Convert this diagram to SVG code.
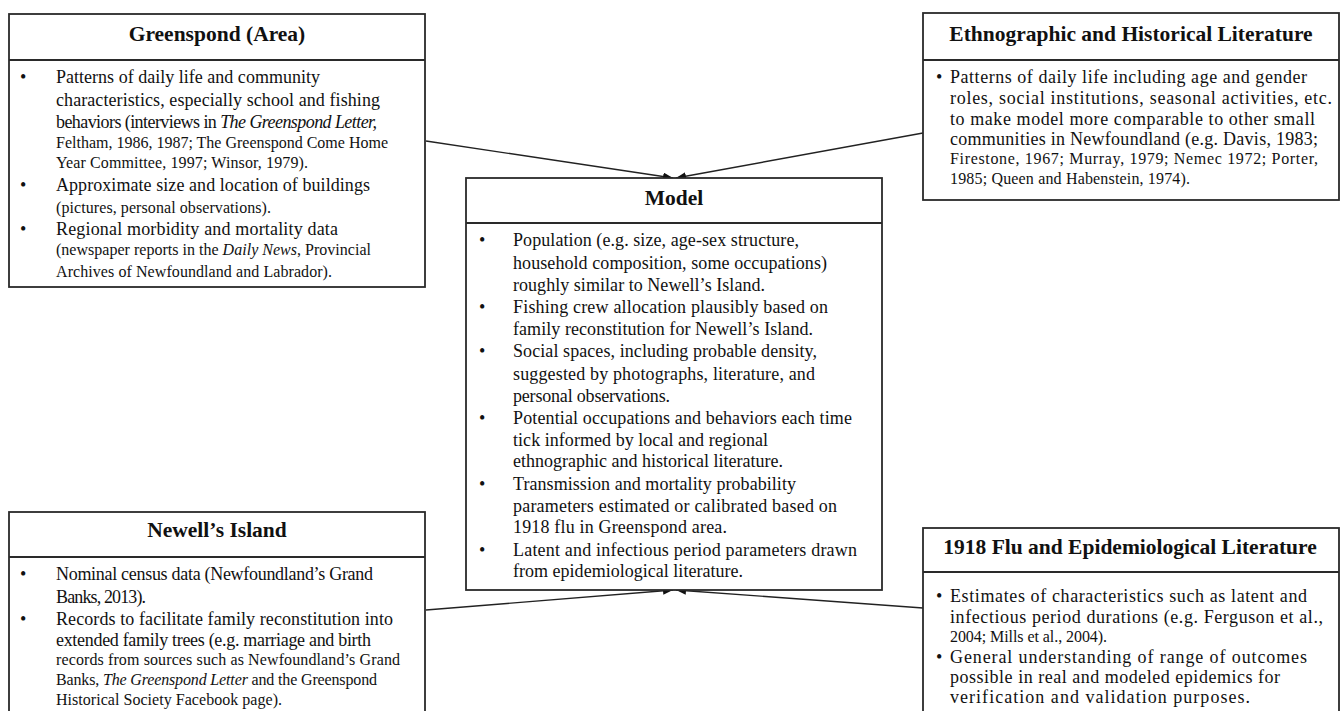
<svg xmlns="http://www.w3.org/2000/svg" width="1340" height="711" viewBox="0 0 1340 711">
<defs>
<style>
.box{fill:#fff;stroke:#2a2a2a;stroke-width:1.8}
.div{stroke:#2a2a2a;stroke-width:1.8}
.t{font-family:"Liberation Serif","Times New Roman",serif;font-weight:bold;font-size:21.5px;fill:#111;text-anchor:middle}
.b{font-family:"Liberation Serif","Times New Roman",serif;font-size:18px;fill:#111}
.s{font-size:16px}
.i{font-style:italic}
.con{stroke:#222;stroke-width:1.4;fill:none;marker-end:url(#ah)}
</style>
<marker id="ah" markerUnits="userSpaceOnUse" markerWidth="12" markerHeight="10" refX="10" refY="4" orient="auto">
<path d="M0,0 L10,4 L0,8 Z" fill="#111"/>
</marker>
</defs>
<rect width="1340" height="711" fill="#fff"/>

<g id="connectors">
<line class="con" x1="426" y1="141" x2="673" y2="178"/>
<line class="con" x1="923" y1="133" x2="676" y2="178"/>
<line class="con" x1="426" y1="610" x2="673" y2="590"/>
<line class="con" x1="923" y1="608" x2="676" y2="590"/>
</g>

<g id="greenspond">
<rect class="box" x="9" y="14" width="416" height="273"/>
<line class="div" x1="9" y1="60" x2="425" y2="60"/>
<text class="t" x="217" y="41">Greenspond (Area)</text>
<text class="b" x="20" y="83">•</text>
<text class="b" x="56" y="83" textLength="264" lengthAdjust="spacing">Patterns of daily life and community</text>
<text class="b" x="56" y="106" textLength="324" lengthAdjust="spacing">characteristics, especially school and fishing</text>
<text class="b" x="56" y="128" textLength="321" lengthAdjust="spacing">behaviors (interviews in <tspan class="i">The Greenspond Letter,</tspan></text>
<text class="b s" x="56" y="148" textLength="332" lengthAdjust="spacing">Feltham, 1986, 1987; The Greenspond Come Home</text>
<text class="b s" x="56" y="168" textLength="252" lengthAdjust="spacing">Year Committee, 1997; Winsor, 1979).</text>
<text class="b" x="20" y="191">•</text>
<text class="b" x="56" y="191" textLength="314" lengthAdjust="spacing">Approximate size and location of buildings</text>
<text class="b s" x="56" y="213" textLength="215" lengthAdjust="spacing">(pictures, personal observations).</text>
<text class="b" x="20" y="235">•</text>
<text class="b" x="56" y="235" textLength="282" lengthAdjust="spacing">Regional morbidity and mortality data</text>
<text class="b s" x="56" y="255" textLength="315" lengthAdjust="spacing">(newspaper reports in the <tspan class="i">Daily News</tspan>, Provincial</text>
<text class="b s" x="56" y="277" textLength="276" lengthAdjust="spacing">Archives of Newfoundland and Labrador).</text>
</g>

<g id="ethnographic">
<rect class="box" x="923" y="13" width="416" height="187"/>
<line class="div" x1="923" y1="60" x2="1339" y2="60"/>
<text class="t" x="1131" y="41">Ethnographic and Historical Literature</text>
<text class="b" x="936" y="83">•</text>
<text class="b" x="950" y="83" textLength="357" lengthAdjust="spacing">Patterns of daily life including age and gender</text>
<text class="b" x="950" y="104" textLength="382" lengthAdjust="spacing">roles, social institutions, seasonal activities, etc.</text>
<text class="b" x="950" y="125" textLength="365" lengthAdjust="spacing">to make model more comparable to other small</text>
<text class="b" x="950" y="145" textLength="368" lengthAdjust="spacing">communities in Newfoundland (e.g. Davis, 1983;</text>
<text class="b s" x="950" y="164" textLength="368" lengthAdjust="spacing">Firestone, 1967; Murray, 1979; Nemec 1972; Porter,</text>
<text class="b s" x="950" y="184" textLength="240" lengthAdjust="spacing">1985; Queen and Habenstein, 1974).</text>
</g>

<g id="model">
<rect class="box" x="466" y="178" width="416" height="412"/>
<line class="div" x1="466" y1="223" x2="882" y2="223"/>
<text class="t" x="674" y="205">Model</text>
<text class="b" x="479" y="246">•</text>
<text class="b" x="513" y="246" textLength="286" lengthAdjust="spacing">Population (e.g. size, age-sex structure,</text>
<text class="b" x="513" y="269" textLength="314" lengthAdjust="spacing">household composition, some occupations)</text>
<text class="b" x="513" y="291" textLength="252" lengthAdjust="spacing">roughly similar to Newell’s Island.</text>
<text class="b" x="479" y="313">•</text>
<text class="b" x="513" y="313" textLength="315" lengthAdjust="spacing">Fishing crew allocation plausibly based on</text>
<text class="b" x="513" y="335" textLength="300" lengthAdjust="spacing">family reconstitution for Newell’s Island.</text>
<text class="b" x="479" y="357">•</text>
<text class="b" x="513" y="357" textLength="304" lengthAdjust="spacing">Social spaces, including probable density,</text>
<text class="b" x="513" y="380" textLength="302" lengthAdjust="spacing">suggested by photographs, literature, and</text>
<text class="b" x="513" y="402" textLength="157" lengthAdjust="spacing">personal observations.</text>
<text class="b" x="479" y="424">•</text>
<text class="b" x="513" y="424" textLength="339" lengthAdjust="spacing">Potential occupations and behaviors each time</text>
<text class="b" x="513" y="446" textLength="255" lengthAdjust="spacing">tick informed by local and regional</text>
<text class="b" x="513" y="467" textLength="270" lengthAdjust="spacing">ethnographic and historical literature.</text>
<text class="b" x="479" y="490">•</text>
<text class="b" x="513" y="490" textLength="283" lengthAdjust="spacing">Transmission and mortality probability</text>
<text class="b" x="513" y="512" textLength="324" lengthAdjust="spacing">parameters estimated or calibrated based on</text>
<text class="b" x="513" y="533" textLength="214" lengthAdjust="spacing">1918 flu in Greenspond area.</text>
<text class="b" x="479" y="556">•</text>
<text class="b" x="513" y="556" textLength="344" lengthAdjust="spacing">Latent and infectious period parameters drawn</text>
<text class="b" x="513" y="577" textLength="230" lengthAdjust="spacing">from epidemiological literature.</text>
</g>

<g id="newells">
<rect class="box" x="9" y="512" width="416" height="210"/>
<line class="div" x1="9" y1="557" x2="425" y2="557"/>
<text class="t" x="217" y="537">Newell’s Island</text>
<text class="b" x="20" y="580">•</text>
<text class="b" x="56" y="580" textLength="317" lengthAdjust="spacing">Nominal census data (Newfoundland’s Grand</text>
<text class="b" x="56" y="603" textLength="90" lengthAdjust="spacing">Banks, 2013).</text>
<text class="b" x="20" y="625">•</text>
<text class="b" x="56" y="625" textLength="337" lengthAdjust="spacing">Records to facilitate family reconstitution into</text>
<text class="b" x="56" y="646" textLength="315" lengthAdjust="spacing">extended family trees (e.g. marriage and birth</text>
<text class="b s" x="56" y="665" textLength="344" lengthAdjust="spacing">records from sources such as Newfoundland’s Grand</text>
<text class="b s" x="56" y="685" textLength="321" lengthAdjust="spacing">Banks, <tspan class="i">The Greenspond Letter</tspan> and the Greenspond</text>
<text class="b s" x="56" y="705" textLength="226" lengthAdjust="spacing">Historical Society Facebook page).</text>
</g>

<g id="flu">
<rect class="box" x="923" y="528" width="416" height="194"/>
<line class="div" x1="923" y1="572" x2="1339" y2="572"/>
<text class="t" x="1130" y="554">1918 Flu and Epidemiological Literature</text>
<text class="b" x="936" y="602">•</text>
<text class="b" x="950" y="602" textLength="357" lengthAdjust="spacing">Estimates of characteristics such as latent and</text>
<text class="b" x="950" y="623" textLength="373" lengthAdjust="spacing">infectious period durations (e.g. Ferguson et al.,</text>
<text class="b s" x="950" y="642" textLength="157" lengthAdjust="spacing">2004; Mills et al., 2004).</text>
<text class="b" x="936" y="663">•</text>
<text class="b" x="950" y="663" textLength="357" lengthAdjust="spacing">General understanding of range of outcomes</text>
<text class="b" x="950" y="683" textLength="330" lengthAdjust="spacing">possible in real and modeled epidemics for</text>
<text class="b" x="950" y="703" textLength="300" lengthAdjust="spacing">verification and validation purposes.</text>
</g>
</svg>
